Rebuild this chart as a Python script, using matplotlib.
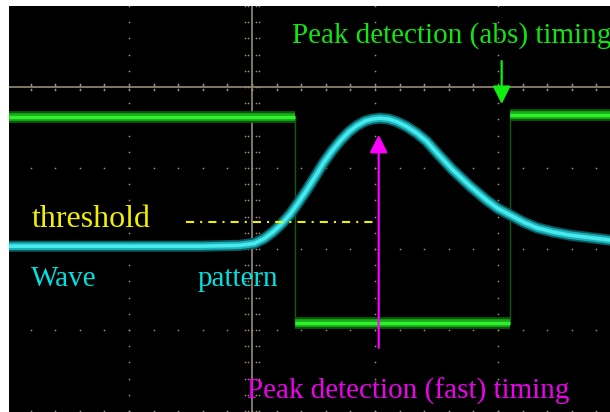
import matplotlib
matplotlib.use("Agg")
import matplotlib.pyplot as plt
import numpy as np

# all positions in scope divisions (x: 0 = centre line, y: 0 = centre line)
wave_x = [-1.98, -1.2, -0.42, -0.10, 0.02, 0.10, 0.17, 0.24, 0.31, 0.38, 0.45, 0.52,
          0.58, 0.65, 0.72, 0.79, 0.85, 0.92, 0.98, 1.04, 1.11, 1.18, 1.26, 1.34,
          1.42, 1.52, 1.63, 1.77, 1.91, 2.00, 2.10, 2.21, 2.32, 2.45, 2.59, 2.75, 2.91]
wave_y = [-1.965, -1.965, -1.965, -1.955, -1.93, -1.87, -1.79, -1.69, -1.57, -1.42, -1.26, -1.09,
          -0.94, -0.79, -0.66, -0.55, -0.48, -0.42, -0.395, -0.385, -0.395, -0.43, -0.49, -0.57,
          -0.67, -0.84, -1.02, -1.22, -1.40, -1.50, -1.58, -1.67, -1.74, -1.79, -1.83, -1.86, -1.89]

gate_x = [-1.98, 0.35, 0.35, 2.10, 2.10, 2.91]
gate_y = [-0.37, -0.37, -2.91, -2.91, -0.34, -0.34]

threshold_y = -1.67
threshold_x = [-0.54, 1.02]
peak_fast_x = 1.03
peak_fast_y = [-0.59, -3.22]
peak_abs_x = 2.03
peak_abs_y = [-0.21, 0.32]

fig = plt.figure(figsize=(6.1, 4.12), dpi=100)
ax = fig.add_axes([9 / 610, 0, 601 / 610, 406 / 412])
ax.set_facecolor('black')
ax.set_xlim(-1.976, 2.911)
ax.set_ylim(-4.012, 1.0)
ax.set_xticks([])
ax.set_yticks([])
for s in ax.spines.values():
    s.set_visible(False)

grid_c = '#9a9078'
# centre cross
ax.axhline(0, color='#8a8270', lw=1.3, zorder=1)
ax.axvline(0, color='#8a8270', lw=1.3, zorder=1)
# dotted grid lines
minor_x = np.arange(-2, 3.01, 0.2)
minor_y = np.arange(-4, 1.01, 0.2)
for gx in [-1, 1, 2]:
    ax.scatter(np.full(len(minor_y), gx), minor_y, s=1.5, color=grid_c, lw=0, zorder=1)
for gy in [-1, -2, -3, -4]:
    ax.scatter(minor_x, np.full(len(minor_x), gy), s=1.5, color=grid_c, lw=0, zorder=1)
# ticks on centre cross
for d in [-0.06, -0.03, 0.03, 0.06]:
    ax.scatter(minor_x, np.full(len(minor_x), d * 0.66), s=1.5, color=grid_c, lw=0, zorder=1)
    ax.scatter(np.full(len(minor_y), d), minor_y, s=1.5, color=grid_c, lw=0, zorder=1)

# gate signal (green)
ax.plot(gate_x, gate_y, color='#0d5e0d', lw=1.0, zorder=2)
for i in [0, 2, 4]:
    xs, ys = gate_x[i:i + 2], gate_y[i:i + 2]
    ax.plot(xs, ys, color='#0a5a0a', lw=8.5, solid_capstyle='butt', zorder=2)
    ax.plot(xs, ys, color='#15ad15', lw=5.5, solid_capstyle='butt', zorder=2)
    ax.plot(xs, ys, color='#30f030', lw=2.4, solid_capstyle='butt', zorder=2)

# wave pattern (cyan)
ax.plot(wave_x, wave_y, color='#0a5a5e', lw=8, solid_joinstyle='round', zorder=3)
ax.plot(wave_x, wave_y, color='#1cb0b8', lw=5.5, solid_joinstyle='round', zorder=3)
ax.plot(wave_x, wave_y, color='#48eaee', lw=2.6, solid_joinstyle='round', zorder=3)

# threshold line
ax.plot(threshold_x, [threshold_y, threshold_y], color='#f0f000', lw=1.5,
        dashes=[3.9, 2.9, 1.0, 2.9], zorder=4)

# arrows
ax.annotate('', xy=(peak_fast_x, peak_fast_y[0]), xytext=(peak_fast_x, peak_fast_y[1]),
            arrowprops=dict(arrowstyle='-|>,head_length=0.54,head_width=0.27', color='#ff00ff',
                            lw=1.6, mutation_scale=20, shrinkA=0, shrinkB=0), zorder=5)
ax.annotate('', xy=(peak_abs_x, peak_abs_y[0]), xytext=(peak_abs_x, peak_abs_y[1]),
            arrowprops=dict(arrowstyle='-|>,head_length=0.54,head_width=0.27', color='#10f010',
                            lw=1.6, mutation_scale=20, shrinkA=0, shrinkB=0), zorder=5)

font = dict(family='Liberation Serif', fontsize=21, va='baseline', ha='left', zorder=6)
ax.text(0.325, 0.543, 'Peak detection (abs) timing', color='#12e612', **font)
ax.text(-1.79, -1.73, 'threshold', color='#f0f000', **dict(font, fontsize=23))
ax.text(-1.80, -2.46, 'Wave', color='#00e0e0', **font)
ax.text(-0.44, -2.46, 'pattern', color='#00e0e0', **font)
ax.text(-0.04, -3.85, 'Peak detection (fast) timing', color='#ee00ee', **font)

fig.savefig('out.png', dpi=100, facecolor='white')
